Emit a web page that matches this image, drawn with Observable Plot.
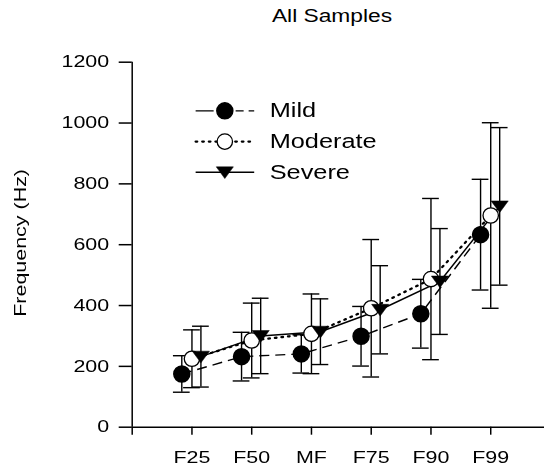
<!DOCTYPE html>
<html><head><meta charset="utf-8">
<script src="https://cdn.jsdelivr.net/npm/d3@7"></script>
<script src="https://cdn.jsdelivr.net/npm/@observablehq/plot@0.6"></script>
<style>
body{margin:0;background:#fff;font-family:"Liberation Sans",Arial,sans-serif;}
#title{position:relative;height:30px;width:544px;}
#title span{position:absolute;left:331.7px;top:8px;font-size:17.5px;line-height:1;transform:translateX(-50%) scaleX(1.3);white-space:nowrap;color:#000}
#chart svg{display:block;will-change:transform;}
</style></head><body>
<div id="title"><span>All Samples</span></div>
<div id="chart"></div>
<script>
const categories = ["F25","F50","MF","F75","F90","F99"];
const seriesNames = ["Mild","Moderate","Severe"];
const mildMean = [175, 232, 241, 299, 373, 633];
const mildSD   = [60, 80, 63, 98, 113, 182];
const moderateMean = [225, 285, 307, 391, 487, 696];
const moderateSD   = [95, 123, 131, 226, 265, 305];
const severeMean = [232, 300, 314, 386, 479, 726];
const severeSD   = [100, 124, 108, 145, 174, 259];
const yTicks = [0, 200, 400, 600, 800, 1000, 1200];
const yLabel = "Frequency (Hz)";

const offsets = {Mild: -0.17, Moderate: 0, Severe: 0.15};
const means = {Mild: mildMean, Moderate: moderateMean, Severe: severeMean};
const sds = {Mild: mildSD, Moderate: moderateSD, Severe: severeSD};
const rows = seriesNames.flatMap(s => categories.map((c, i) => ({
  series: s, cat: c, xpos: i + 1 + offsets[s],
  mean: means[s][i], lo: means[s][i] - sds[s][i], hi: means[s][i] + sds[s][i]
})));
const bySeries = s => rows.filter(d => d.series === s);
const cap = 0.14;

const triangleDown = {
  draw(context, size) {
    const r = Math.sqrt(size / Math.PI);
    context.moveTo(-1.1 * r, -0.7 * r);
    context.lineTo(1.1 * r, -0.7 * r);
    context.lineTo(0, 0.8 * r);
    context.closePath();
  }
};

const styles = {
  Mild: {dash: "10,6", legendDash: "18,22,8,5,8", width: 1.4},
  Moderate: {dash: "1.6,5", legendDash: "1.6,5", width: 2.3},
  Severe: {dash: null, legendDash: null, width: 1.5}
};

const legend = seriesNames.map((s, i) => ({name: s, y: 1040 - i * 101, x1: 1.07, x2: 2.05, xs: 1.55, xt: 2.3}));

const dotFor = (data, isL, s) => {
  const xk = isL ? "xs" : "xpos", yk = isL ? "y" : "mean";
  if (s === "Mild") return Plot.dot(data, {x: xk, y: yk, r: 8, fill: "black", stroke: "black"});
  if (s === "Moderate") return Plot.dot(data, {x: xk, y: yk, r: 7.7, fill: "white", stroke: "black", strokeWidth: 1.3});
  return Plot.dot(data, {x: xk, y: yk, r: 7.8, symbol: triangleDown, fill: "black", stroke: "black", strokeWidth: 0.5});
};

const marks = [
  Plot.ruleY([0], {stroke: "black", strokeWidth: 1.5}),
  Plot.ruleX([0], {y1: 0, y2: 1200, stroke: "black", strokeWidth: 1.5}),
  Plot.axisY({ticks: yTicks, tickFormat: d => String(d), tickSize: 13, tickPadding: 10, fontSize: 16.5, label: null, strokeWidth: 1.5}),
  Plot.axisX({ticks: [0,1,2,3,4,5,6], tickFormat: d => d === 0 ? "" : categories[d - 1], tickSize: 8, tickPadding: 16, fontSize: 16.5, label: null, strokeWidth: 1.5}),
  Plot.text([yLabel], {x: -1.87, y: 606, text: d => d, rotate: -90, fontSize: 16.5, fill: "black"}),
];
for (const s of seriesNames) {
  marks.push(Plot.line(bySeries(s), {x: "xpos", y: "mean", stroke: "black", strokeWidth: styles[s].width, strokeDasharray: styles[s].dash, strokeLinecap: s === "Moderate" ? "round" : "butt"}));
}
for (const s of seriesNames) {
  const d = bySeries(s);
  marks.push(Plot.ruleX(d, {x: "xpos", y1: "lo", y2: "hi", stroke: "black", strokeWidth: 1.4}));
  marks.push(Plot.ruleY(d, {y: "hi", x1: r => r.xpos - cap, x2: r => r.xpos + cap, stroke: "black", strokeWidth: 1.4}));
  marks.push(Plot.ruleY(d, {y: "lo", x1: r => r.xpos - cap, x2: r => r.xpos + cap, stroke: "black", strokeWidth: 1.4}));
}
for (const s of seriesNames) marks.push(dotFor(bySeries(s), false, s));
// legend
for (const s of seriesNames) {
  const l = legend.filter(d => d.name === s);
  marks.push(Plot.ruleY(l, {y: "y", x1: "x1", x2: "x2", stroke: "black", strokeWidth: styles[s].width, strokeDasharray: styles[s].legendDash, strokeLinecap: s === "Moderate" ? "round" : "butt"}));
  marks.push(dotFor(l, true, s));
}
marks.push(Plot.text(legend, {x: "xt", y: "y", text: "name", textAnchor: "start", fontSize: 19.5, fill: "black"}));

const chart = Plot.plot({
  width: 544, height: 438,
  marginLeft: 131.7, marginRight: 0, marginTop: 31.7, marginBottom: 41.3,
  x: {domain: [0, 6.9], axis: null},
  y: {domain: [0, 1200], axis: null},
  style: {fontFamily: "'Liberation Sans', Arial, sans-serif", color: "black", background: "white", overflow: "hidden"},
  marks
});
document.getElementById("chart").append(chart);

d3.select(chart).selectAll("text").each(function() {
  const t = d3.select(this);
  const x = parseFloat(t.attr("x"));
  const ax = (isFinite(x) && !String(t.attr("x")).includes("em")) ? x : 0;
  const T = t.attr("transform") || "";
  t.attr("transform", `${T} translate(${ax},0) scale(1.3,1) translate(${-ax},0)`);
});
</script>
</body></html>
